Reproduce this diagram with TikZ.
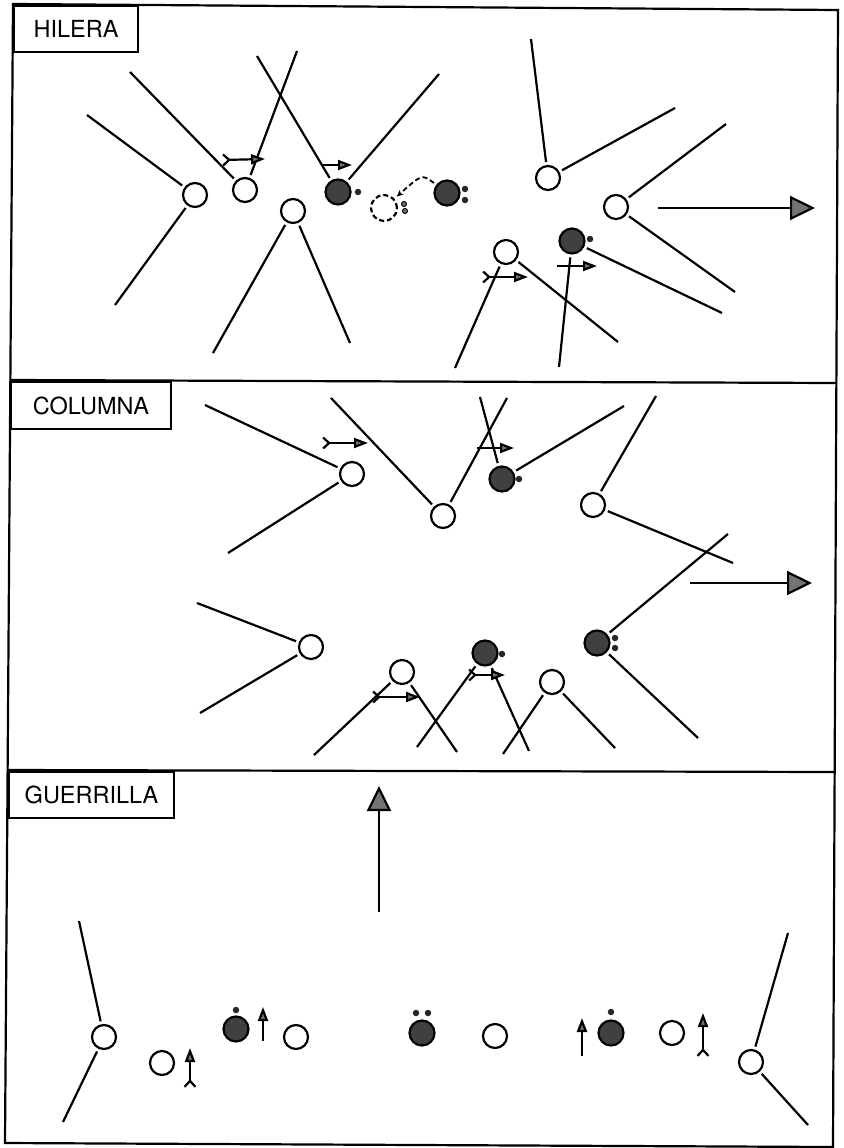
\documentclass[tikz,border=0pt]{standalone}
\usepackage{fontspec}
\setmainfont{TeX Gyre Heros}
\usetikzlibrary{arrows.meta}
\newlength{\du}
\setlength{\du}{1\unitlength}
\definecolor{stipple}{rgb}{0.25,0.25,0.25}
\definecolor{headgray}{rgb}{0.45,0.45,0.45}

\begin{document}
\begin{tikzpicture}[
  player/.style={circle,draw,line width=2.2\du,minimum size=24\du,inner sep=0pt,outer sep=4\du},
  carrier/.style={player,fill=stipple,minimum size=25\du},
  ghost/.style={player,dash pattern=on 5\du off 3\du,minimum size=26\du},
  balldot/.style={circle,fill=black!85,minimum size=6.5\du,inner sep=0pt},
  trail/.style={circle,draw,fill=headgray,line width=1\du,minimum size=5\du,inner sep=0pt},
  sight/.style={line width=2.2\du},
  run/.style={line width=2.2\du,-{Triangle[length=14pt,width=10pt,fill=headgray]}},
  forkrun/.style={line width=2.2\du,{Straight Barb[reversed,length=6pt,width=11pt]}-{Triangle[length=14pt,width=10pt,fill=headgray]}},
  bigrun/.style={line width=2.2\du,-{Triangle[length=25pt,width=24pt,fill=headgray]}},
  passline/.style={line width=1.8\du,dash pattern=on 5\du off 3\du,-{Stealth[length=7pt,width=6pt]}},
  panelname/.style={draw,line width=2\du,anchor=north west,inner sep=0pt,font=\fontsize{23.5}{28}\selectfont}
]
\pgftransformxscale{1.000000}
\pgftransformyscale{-1.000000}
\definecolor{dialinecolor}{rgb}{0.000000, 0.000000, 0.000000}
\pgfsetstrokecolor{dialinecolor}
\useasboundingbox (0\du,0\du) rectangle (843\du,1148\du);
% frame and panels
\draw[sight] (13\du,4\du)--(838\du,10\du)--(833\du,1147\du)--(5\du,1143\du)--cycle;
\draw[sight] (10\du,380\du)--(836\du,383\du);
\draw[sight] (7\du,770\du)--(834\du,772\du);
\node[panelname,minimum width=124\du,minimum height=46\du] (tagH) at (13\du,5\du){HILERA};
\node[panelname,minimum width=160\du,minimum height=47\du] (tagC) at (10\du,381\du){COLUMNA};
\node[panelname,minimum width=165\du,minimum height=46\du] (tagG) at (8\du,771\du){GUERRILLA};

% HILERA
\node[player] (h1) at (195\du,195\du){};
\coordinate (h1a) at (87\du,115\du);
\coordinate (h1b) at (115\du,305\du);
\draw[sight] (h1)--(h1a);
\draw[sight] (h1)--(h1b);
\node[player] (h2) at (245\du,190\du){};
\coordinate (h2a) at (130\du,72\du);
\coordinate (h2b) at (297\du,51\du);
\draw[sight] (h2)--(h2a);
\draw[sight] (h2)--(h2b);
\coordinate (h2s) at (222\du,160\du);
\coordinate (h2t) at (265\du,159\du);
\draw[forkrun] (h2s)--(h2t);
\node[player] (h3) at (293\du,211\du){};
\coordinate (h3a) at (213\du,353\du);
\coordinate (h3b) at (350\du,343\du);
\draw[sight] (h3)--(h3a);
\draw[sight] (h3)--(h3b);
\node[carrier] (h4) at (338\du,192\du){};
\node[balldot] (h4o) at (358\du,192\du){};
\coordinate (h4a) at (257\du,56\du);
\coordinate (h4b) at (439\du,74\du);
\draw[sight] (h4)--(h4a);
\draw[sight] (h4)--(h4b);
\coordinate (h4s) at (321\du,165\du);
\coordinate (h4t) at (352\du,165\du);
\draw[run] (h4s)--(h4t);
\node[ghost] (h5) at (384\du,208\du){};
\node[trail] (h5p) at (404\du,204\du){};
\node[trail] (h5q) at (405\du,211\du){};
\node[carrier] (h6) at (447\du,193\du){};
\node[balldot] (h6o) at (465\du,189\du){};
\node[balldot] (h6u) at (465\du,200\du){};
\draw[passline] (h6) .. controls (422\du,174\du) .. (h5);
\node[player] (h7) at (548\du,178\du){};
\coordinate (h7a) at (531\du,39\du);
\coordinate (h7b) at (675\du,108\du);
\draw[sight] (h7)--(h7a);
\draw[sight] (h7)--(h7b);
\node[player] (h8) at (616\du,207\du){};
\coordinate (h8a) at (726\du,124\du);
\coordinate (h8b) at (735\du,292\du);
\draw[sight] (h8)--(h8a);
\draw[sight] (h8)--(h8b);
\coordinate (hgo) at (658\du,208\du);
\coordinate (hend) at (815\du,208\du);
\draw[bigrun] (hgo)--(hend);
\node[player] (h9) at (506\du,252\du){};
\coordinate (h9a) at (455\du,368\du);
\coordinate (h9b) at (618\du,342\du);
\draw[sight] (h9)--(h9a);
\draw[sight] (h9)--(h9b);
\coordinate (h9s) at (482\du,277\du);
\coordinate (h9t) at (528\du,277\du);
\draw[forkrun] (h9s)--(h9t);
\node[carrier] (h10) at (572\du,241\du){};
\node[balldot] (h10o) at (590\du,239\du){};
\coordinate (h10a) at (722\du,313\du);
\coordinate (h10b) at (559\du,367\du);
\draw[sight] (h10)--(h10a);
\draw[sight] (h10)--(h10b);
\coordinate (h10s) at (557\du,266\du);
\coordinate (h10t) at (597\du,266\du);
\draw[run] (h10s)--(h10t);

% COLUMNA
\node[player] (c1) at (352\du,474\du){};
\coordinate (c1a) at (205\du,405\du);
\coordinate (c1b) at (228\du,553\du);
\draw[sight] (c1)--(c1a);
\draw[sight] (c1)--(c1b);
\coordinate (c1s) at (322\du,443\du);
\coordinate (c1t) at (368\du,443\du);
\draw[forkrun] (c1s)--(c1t);
\node[player] (c2) at (443\du,516\du){};
\coordinate (c2a) at (331\du,398\du);
\coordinate (c2b) at (507\du,398\du);
\draw[sight] (c2)--(c2a);
\draw[sight] (c2)--(c2b);
\node[carrier] (c3) at (502\du,479\du){};
\node[balldot] (c3o) at (519\du,479\du){};
\coordinate (c3a) at (480\du,397\du);
\coordinate (c3b) at (624\du,406\du);
\draw[sight] (c3)--(c3a);
\draw[sight] (c3)--(c3b);
\coordinate (c3s) at (477\du,448\du);
\coordinate (c3t) at (514\du,448\du);
\draw[run] (c3s)--(c3t);
\node[player] (c4) at (593\du,505\du){};
\coordinate (c4a) at (656\du,396\du);
\coordinate (c4b) at (733\du,563\du);
\draw[sight] (c4)--(c4a);
\draw[sight] (c4)--(c4b);
\node[carrier] (c5) at (597\du,643\du){};
\node[balldot] (c5o) at (615\du,638\du){};
\node[balldot] (c5u) at (615\du,648\du){};
\coordinate (c5a) at (728\du,534\du);
\coordinate (c5b) at (698\du,738\du);
\draw[sight] (c5)--(c5a);
\draw[sight] (c5)--(c5b);
\coordinate (cgo) at (690\du,583\du);
\coordinate (cend) at (812\du,583\du);
\draw[bigrun] (cgo)--(cend);
\node[player] (c6) at (311\du,647\du){};
\coordinate (c6a) at (197\du,603\du);
\coordinate (c6b) at (200\du,713\du);
\draw[sight] (c6)--(c6a);
\draw[sight] (c6)--(c6b);
\node[player] (c7) at (402\du,672\du){};
\coordinate (c7a) at (314\du,755\du);
\coordinate (c7b) at (457\du,752\du);
\draw[sight] (c7)--(c7a);
\draw[sight] (c7)--(c7b);
\coordinate (c7s) at (372\du,697\du);
\coordinate (c7t) at (420\du,697\du);
\draw[forkrun] (c7s)--(c7t);
\node[carrier] (c8) at (485\du,653\du){};
\node[balldot] (c8o) at (502\du,654\du){};
\coordinate (c8a) at (417\du,747\du);
\coordinate (c8b) at (529\du,751\du);
\draw[sight] (c8)--(c8a);
\draw[sight] (c8)--(c8b);
\coordinate (c8s) at (468\du,675\du);
\coordinate (c8t) at (505\du,675\du);
\draw[forkrun] (c8s)--(c8t);
\node[player] (c9) at (552\du,682\du){};
\coordinate (c9a) at (503\du,754\du);
\coordinate (c9b) at (615\du,748\du);
\draw[sight] (c9)--(c9a);
\draw[sight] (c9)--(c9b);

% GUERRILLA
\coordinate (ggo) at (379\du,912\du);
\coordinate (gend) at (379\du,786\du);
\draw[bigrun] (ggo)--(gend);
\node[player] (g1) at (104\du,1037\du){};
\coordinate (g1a) at (79\du,921\du);
\coordinate (g1b) at (63\du,1122\du);
\draw[sight] (g1)--(g1a);
\draw[sight] (g1)--(g1b);
\node[player] (g2) at (162\du,1063\du){};
\coordinate (g2s) at (190\du,1088\du);
\coordinate (g2t) at (190\du,1048\du);
\draw[forkrun] (g2s)--(g2t);
\node[carrier] (g3) at (236\du,1029\du){};
\node[balldot] (g3o) at (236\du,1010\du){};
\coordinate (g3s) at (263\du,1041\du);
\coordinate (g3t) at (263\du,1007\du);
\draw[run] (g3s)--(g3t);
\node[player] (g4) at (296\du,1037\du){};
\node[carrier] (g5) at (422\du,1033\du){};
\node[balldot] (g5o) at (416\du,1013\du){};
\node[balldot] (g5u) at (428\du,1013\du){};
\node[player] (g6) at (495\du,1036\du){};
\coordinate (g6s) at (582\du,1056\du);
\coordinate (g6t) at (582\du,1018\du);
\draw[run] (g6s)--(g6t);
\node[carrier] (g7) at (611\du,1033\du){};
\node[balldot] (g7o) at (611\du,1012\du){};
\node[player] (g8) at (672\du,1033\du){};
\coordinate (g8s) at (703\du,1057\du);
\coordinate (g8t) at (703\du,1013\du);
\draw[forkrun] (g8s)--(g8t);
\node[player] (g9) at (751\du,1062\du){};
\coordinate (g9a) at (788\du,933\du);
\coordinate (g9b) at (808\du,1125\du);
\draw[sight] (g9)--(g9a);
\draw[sight] (g9)--(g9b);
\end{tikzpicture}
\end{document}
